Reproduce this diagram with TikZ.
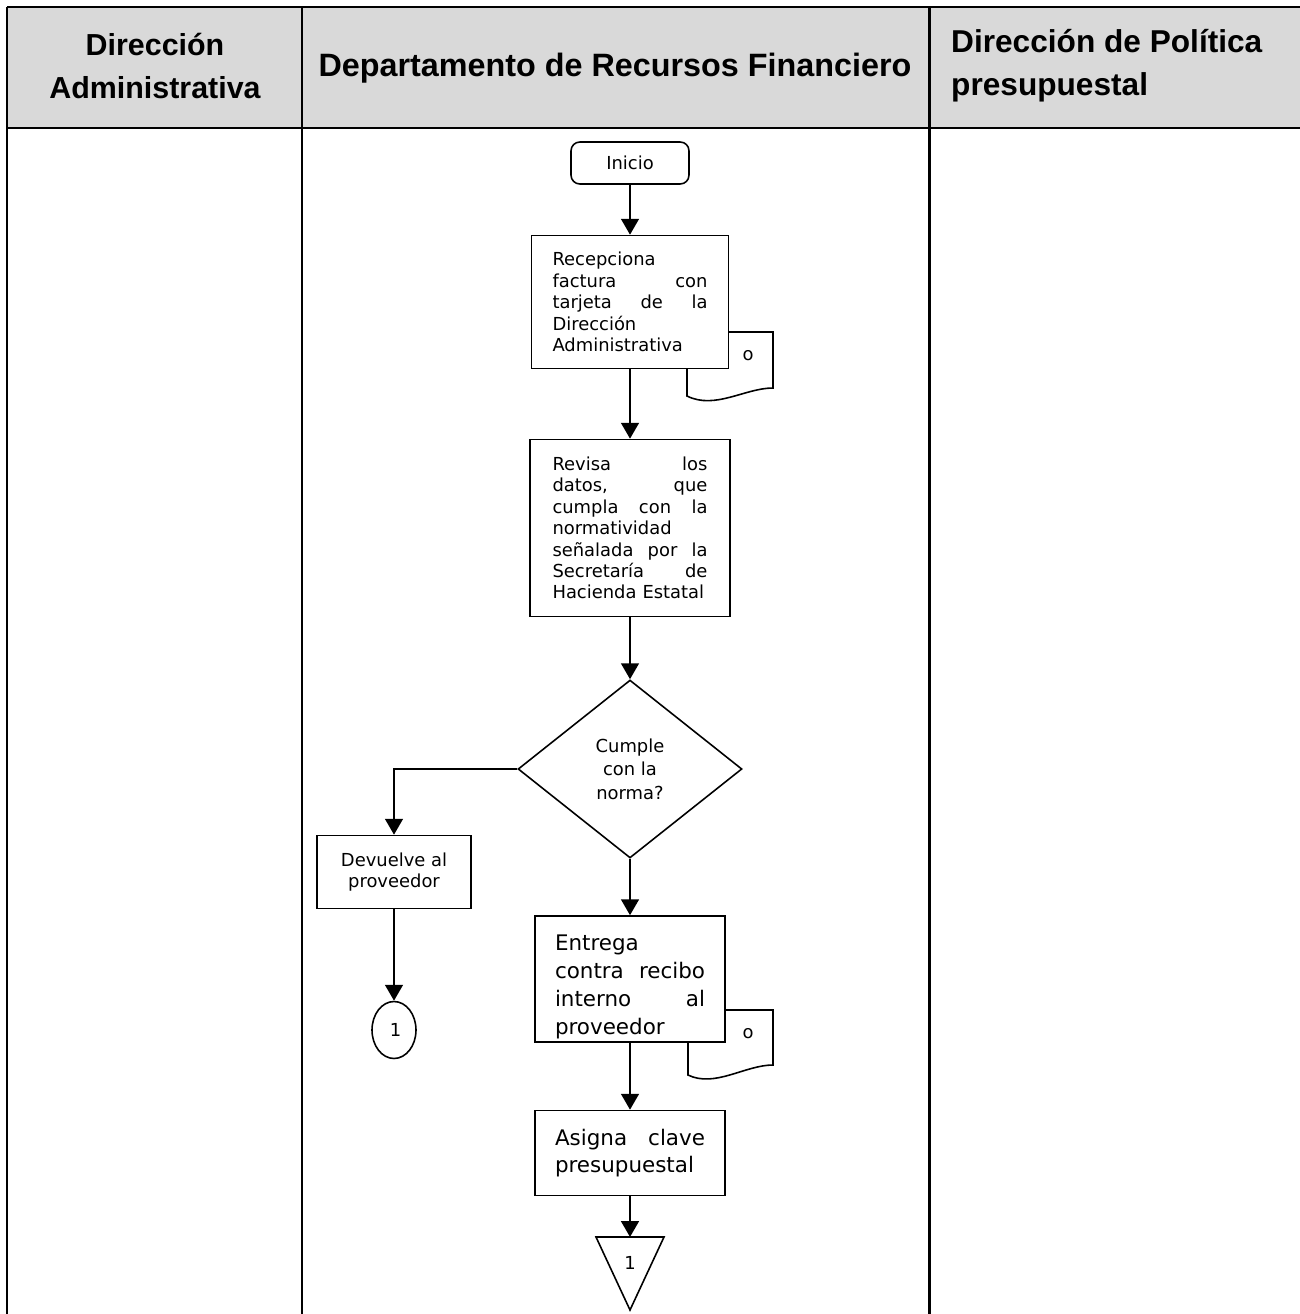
\documentclass[tikz,border=0pt]{standalone}
\usepackage{fontspec}
\setmainfont{DejaVu Sans}
\newfontfamily\hdrfont{Liberation Sans}
\usetikzlibrary{arrows.meta,shapes.geometric}
\definecolor{hdrgray}{HTML}{D9D9D9}
\begin{document}
\begin{tikzpicture}[x=0.02cm, y=-0.02cm, every node/.style={font=\fontsize{10.2}{12.2}\selectfont},
  box/.style={draw,line width=0.9pt,fill=white,inner sep=0pt,align=left},
  big/.style={font=\fontsize{12.2}{15.8}\selectfont},
  arr/.style={-{Triangle[width=10pt,length=9pt]},line width=1.4pt},
  hdr/.style={font=\hdrfont\bfseries\fontsize{17.3}{24.4}\selectfont},
  lane/.style={line width=1.7pt}]
\useasboundingbox (0,0) rectangle (1300,1314);
% header
\fill[hdrgray] (7,7) rectangle (1300,128);
\draw[lane] (7,7) -- (1300,7) (7,128) -- (1300,128);
\draw[lane] (7,7) -- (7,1314) (302,7) -- (302,1314) (929,7) -- (929,1314);
\node[hdr,align=center] (h1) at (155,66) {Dirección\\Administrativa};
\node[hdr,font=\hdrfont\bfseries\fontsize{18.4}{24.4}\selectfont] (h2) at (615,68) {Departamento de Recursos Financiero};
\node[hdr,font=\hdrfont\bfseries\fontsize{18}{24.4}\selectfont,align=left,anchor=west] (h3) at (945,66) {Dirección de Política\\presupuestal};
% documents
\draw[line width=0.9pt] (687,332) -- (773,332) -- (773,388) .. controls (745,388) and (715,410) .. (687,396) -- cycle;
\node (o1) at (748,356) {o};
\draw[line width=0.9pt] (688,1010) -- (773,1010) -- (773,1065) .. controls (745,1065) and (715,1088) .. (688,1075) -- cycle;
\node (o2) at (748,1034) {o};
% steps
\node[box,rounded corners=5pt,minimum width=2.36cm,minimum height=0.84cm,align=center] (ini) at (630,163) {Inicio};
\node[box,text width=3.1cm,minimum width=3.94cm,minimum height=2.66cm] (rec) at (630,302)
  {Recepciona\\factura\hfill\ con\\tarjeta\hfill\ de\hfill\ la\\Dirección\\Administrativa};
\node[box,text width=3.1cm,minimum width=4.0cm,minimum height=3.54cm] (rev) at (630,528)
  {Revisa\hfill\ los\\datos,\hfill\ que\\cumpla\hfill\ con\hfill\ la\\normatividad\\señalada\hfill\ por\hfill\ la\\Secretaría\hfill\ de\\Hacienda Estatal};
\node[draw,diamond,line width=0.9pt,fill=white,minimum width=4.48cm,minimum height=3.56cm,inner sep=0pt,align=center,
  font=\fontsize{10.2}{13.3}\selectfont] (dec) at (630,769) {Cumple\\con la\\norma?};
\node[box,align=center,minimum width=3.08cm,minimum height=1.46cm] (dev) at (394,872) {Devuelve al\\proveedor};
\node[draw,ellipse,line width=0.9pt,minimum width=0.88cm,minimum height=1.14cm,inner sep=0pt] (con1) at (394,1030) {\,1};
\node[box,big,text width=3.0cm,minimum width=3.8cm,minimum height=2.52cm] (ent) at (630,979)
  {\rule{0pt}{18pt}Entrega\\contra\hfill\ recibo\\interno\hfill\ al\\proveedor};
\node[box,big,text width=3.0cm,minimum width=3.8cm,minimum height=1.7cm] (asg) at (630,1153)
  {Asigna\hfill\ clave\\presupuestal};
\coordinate (off) at (630,1237);
\draw[line width=0.9pt] (off) ++(-34,0) -- ++(68,0) -- (630,1310) -- cycle;
\node (offtxt) at (630,1263) {1};
% flow
\draw[arr] (ini) -- (rec);
\draw[arr] (rec) -- (rev);
\draw[arr] (rev) -- (dec);
\draw[arr] (dec.west) -| (dev);
\draw[arr] (dev) -- (con1);
\draw[arr] (dec) -- (ent);
\draw[arr] (ent) -- (asg);
\draw[arr] (asg) -- (off);
\end{tikzpicture}
\end{document}
